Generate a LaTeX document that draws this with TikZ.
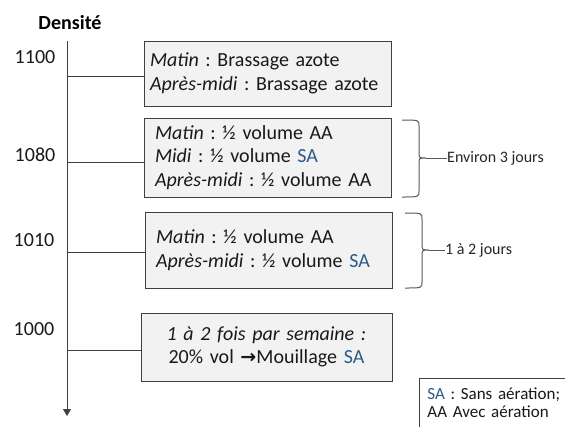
\documentclass[tikz,border=0pt]{standalone}
\usepackage{fontspec}
\setmainfont{Carlito}
\newfontfamily\symfont{DejaVu Sans}
\usetikzlibrary{arrows.meta}
\definecolor{boxfill}{HTML}{F2F2F2}
\definecolor{linec}{HTML}{404040}
\definecolor{sablue}{HTML}{2E5A88}
\definecolor{bracec}{HTML}{595959}
\newcommand{\SAtxt}{\textcolor{sablue}{SA}}
\frenchspacing
\tikzset{
  stagebox/.style={draw=linec, line width=0.9pt, fill=boxfill, minimum height=#1, font=\frenchspacing\fontsize{20}{23.5}\selectfont, text=black!90, align=left},
  denslab/.style={font=\fontsize{20}{23.5}\selectfont, text=black!90},
  conn/.style={draw=linec, line width=0.9pt},
  bracelab/.style={font=\fontsize{16}{18}\selectfont, text=black!85, anchor=west, inner sep=0pt},
  bracepath/.style={draw=bracec, line width=1pt},
}
\begin{document}
\begin{tikzpicture}[x=1pt,y=-1pt]
\useasboundingbox (0,0) rectangle (565,426);
\clip (0,0) rectangle (565,426);
% title
\node[font=\bfseries\fontsize{20}{22}\selectfont] (title) at (70,23) {Densité};
% axis
\coordinate (top) at (67,41);
\coordinate (bot) at (67,416);
\draw[conn, -{Triangle[length=7pt,width=8pt]}] (top) -- (bot);
% density labels
\node[denslab] (d1100) at (35,57) {1100};
\node[denslab] (d1080) at (35,155) {1080};
\node[denslab] (d1010) at (34,240) {1010};
\node[denslab] (d1000) at (34,329) {1000};
% boxes
\node[stagebox=65pt, inner xsep=6pt, text width=235pt] (b1) at (267.5,73.5)
  {\textit{Matin} : Brassage azote\\\textit{Après-midi} : Brassage azote};
\node[stagebox=79pt, inner xsep=11pt, text width=225pt] (b2) at (267.5,157.5)
  {\textit{Matin} : ½ volume AA\\\textit{Midi} : ½ volume \SAtxt\\\textit{Après-midi} : ½ volume AA};
\node[stagebox=76pt, inner xsep=11pt, text width=225pt] (b3) at (268.5,250)
  {\textit{Matin} : ½ volume AA\\\textit{Après-midi} : ½ volume \SAtxt};
\node[stagebox=68pt, inner xsep=4pt, text width=243pt, align=center] (b4) at (266.5,347)
  {\textit{1 à 2 fois par semaine :}\\20\% vol {\symfont\bfseries\fontsize{19}{20}\selectfont →}Mouillage \SAtxt};
% connectors
\coordinate (a1) at (67,76);
\coordinate (a2) at (67,162);
\coordinate (a3) at (67,252);
\coordinate (a4) at (67,350);
\draw[conn] (a1) -- (a1 -| b1.west);
\draw[conn] (a2) -- (a2 -| b2.west);
\draw[conn] (a3) -- (a3 -| b3.west);
\draw[conn] (a4) -- (a4 -| b4.west);
% braces
\draw[bracepath] (402,120) .. controls (419,120) .. (419,126) -- (419,152)
  .. controls (419,158) .. (426,158) .. controls (419,158) .. (419,164) -- (419,191)
  .. controls (419,197) .. (402,197);
\coordinate (br1) at (426,158);
\node[bracelab] (l1) at (447,158) {Environ 3 jours};
\draw[bracepath, line width=0.8pt] (br1) -- (l1.west);
\draw[bracepath] (405,213) .. controls (422,213) .. (422,219) -- (422,244)
  .. controls (422,250) .. (429,250) .. controls (422,250) .. (422,256) -- (422,282)
  .. controls (422,288) .. (405,288);
\coordinate (br2) at (429,250);
\node[bracelab] (l2) at (445,250) {1 à 2 jours};
\draw[bracepath, line width=0.8pt] (br2) -- (l2.west);
% legend
\node[draw=linec, line width=0.9pt, fill=white, anchor=north west, inner xsep=8pt, inner ysep=9pt,
  text width=160pt, align=left, text depth=30pt, font=\fontsize{17}{18}\selectfont, text=black!90]
  (leg) at (419,378) {\SAtxt{} : Sans aération;\\AA Avec aération};
\end{tikzpicture}
\end{document}
